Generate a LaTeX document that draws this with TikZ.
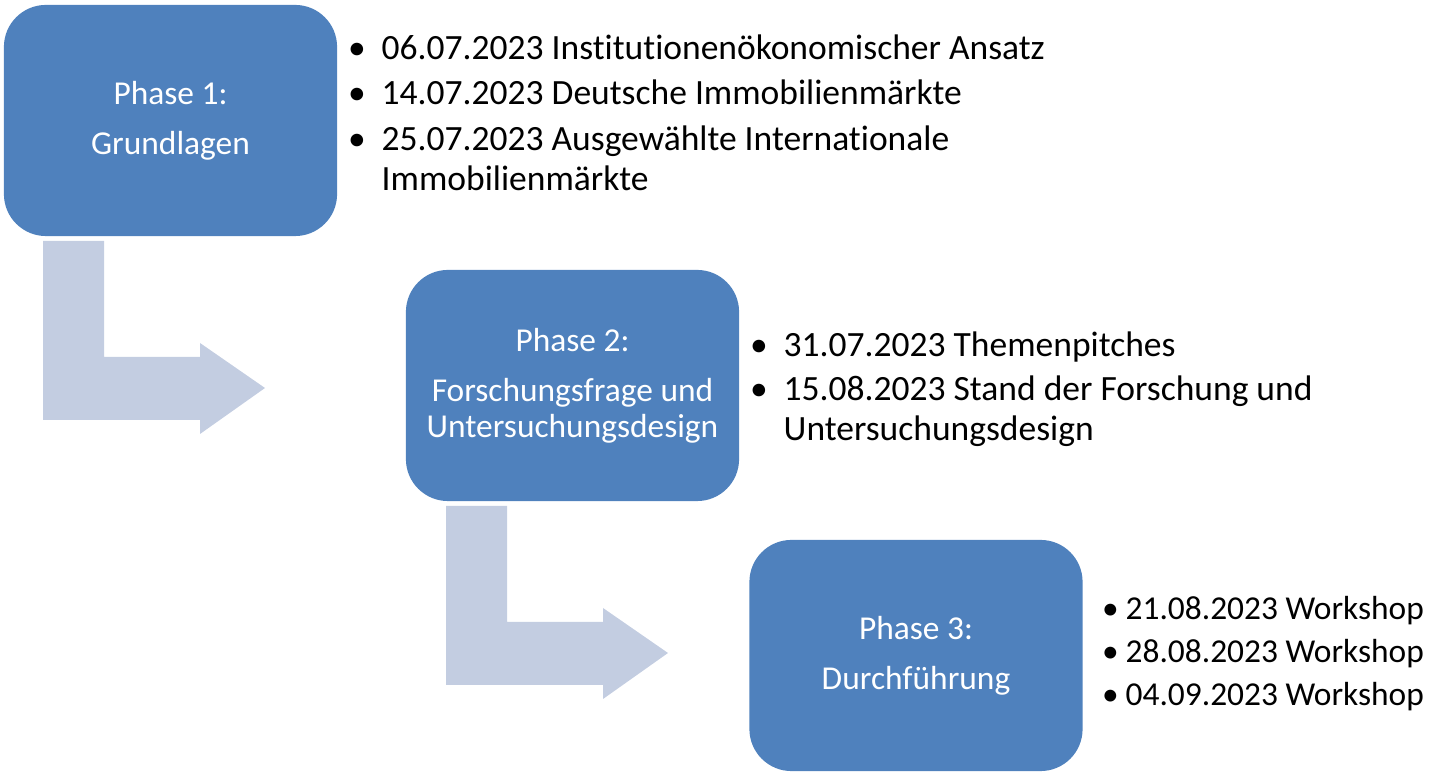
\documentclass[tikz,border=0pt]{standalone}
\usepackage{fontspec}
\setmainfont{Carlito}[Ligatures=NoCommon]
\usepackage{tikz}
\usetikzlibrary{positioning}

\definecolor{phaseblue}{HTML}{4F81BD}
\definecolor{arrowblue}{HTML}{C3CDE1}
\newcommand{\itembullet}[1]{\llap{•\hspace{#1}}}

\begin{document}
\begin{tikzpicture}[
      x=0.01cm, y=-0.01cm,        % pixel grid, y downwards
      phase/.style={
          rectangle,
          fill=phaseblue,
          text=white,
          rounded corners=0.42cm,
          minimum width=3.33cm,
          minimum height=2.31cm,
          inner sep=0pt,
          align=center,
          font=\fontsize{9.5pt}{10.24pt}\selectfont
      },
      item/.style={anchor=base west, inner sep=0pt, font=\fontsize{10.1pt}{11.4pt}\selectfont},
      smallitem/.style={item, font=\fontsize{9.5pt}{11.4pt}\selectfont},
      bentarrow/.pic={
          \fill[arrowblue] (0,0) -- (61,0) -- (61,116) -- (157,116) -- (157,102)
              -- (222,147) -- (157,193) -- (157,179) -- (0,179) -- cycle;
      }
  ]
      \useasboundingbox (0,0) rectangle (1439,780);

      % Phases
      \node (phase1) [phase] at (170.5,120.5) {Phase 1:\\[0.14cm]Grundlagen};
      \node (phase2) [phase] at (572.5,385.5) {Phase 2:\\[0.14cm]Forschungsfrage und\\Untersuchungsdesign};
      \node (phase3) [phase] at (916,655.5) {Phase 3:\\[0.14cm]Durchführung};

      % Bent arrows
      \pic (arrow1) at (43,241) {bentarrow};
      \pic (arrow2) at (446,506) {bentarrow};

      % Dates of phase 1
      \node (d11) [item] at (381,60) {\itembullet{0.16cm}06.07.2023 Institutionenökonomischer Ansatz};
      \node (d12) [item] at (381,105) {\itembullet{0.16cm}14.07.2023 Deutsche Immobilienmärkte};
      \node (d13) [item] at (381,151) {\itembullet{0.16cm}25.07.2023 Ausgewählte Internationale};
      \node (d14) [item] at (381,191) {Immobilienmärkte};

      % Dates of phase 2
      \node (d21) [item] at (783,357) {\itembullet{0.16cm}31.07.2023 Themenpitches};
      \node (d22) [item] at (783,401) {\itembullet{0.16cm}15.08.2023 Stand der Forschung und};
      \node (d23) [item] at (783,441) {Untersuchungsdesign};

      % Dates of phase 3
      \node (d31) [smallitem] at (1125,620) {\itembullet{0.07cm}21.08.2023 Workshop};
      \node (d32) [smallitem] at (1125,663) {\itembullet{0.07cm}28.08.2023 Workshop};
      \node (d33) [smallitem] at (1125,706) {\itembullet{0.07cm}04.09.2023 Workshop};
  \end{tikzpicture}
\end{document}
